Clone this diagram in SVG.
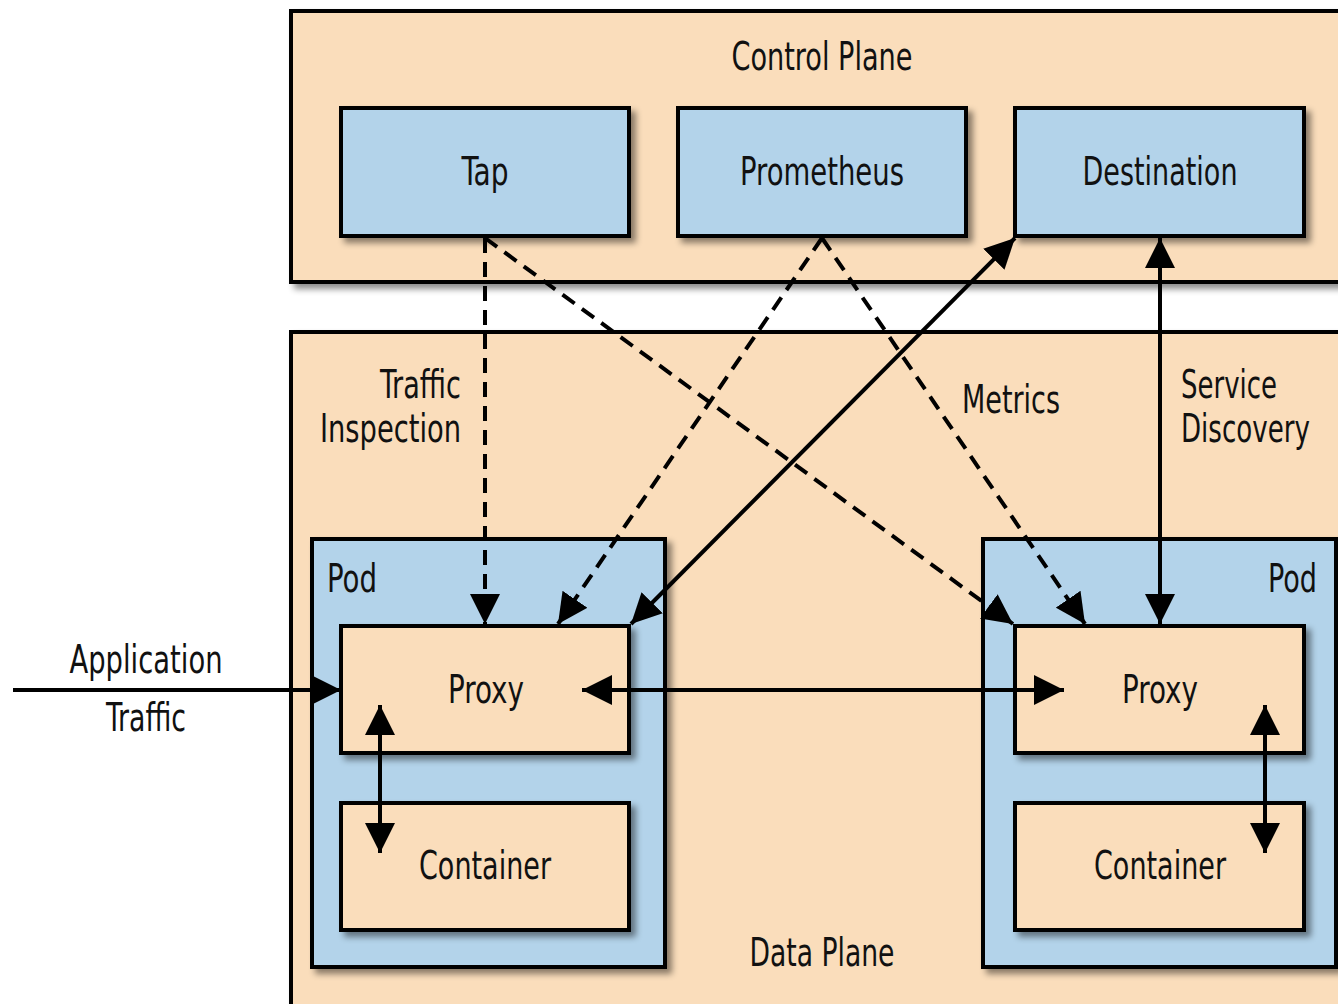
<svg xmlns="http://www.w3.org/2000/svg" width="1338" height="1004" viewBox="0 0 1338 1004">
<style>
.peach{fill:#FADDBB;stroke:#000;stroke-width:4}
.blue{fill:#B3D3EA;stroke:#000;stroke-width:4}
.t{font-family:"DejaVu Sans Condensed","Liberation Sans",sans-serif;font-size:39px;fill:#111}
.c{text-anchor:middle}
.e{text-anchor:end}
.ln{stroke:#000;stroke-width:4;fill:none}
.d{stroke-dasharray:15 9}
</style>
<defs>
<filter id="sh" x="-10%" y="-10%" width="130%" height="130%">
<feDropShadow dx="5" dy="5" stdDeviation="3" flood-color="#000" flood-opacity="0.45"/>
</filter>
<marker id="ah" viewBox="0 0 10 10" refX="10" refY="5" markerWidth="7.5" markerHeight="7.5" markerUnits="strokeWidth" orient="auto-start-reverse">
<path d="M0,0 L10,5 L0,10 Z" fill="#000"/>
</marker>
</defs>
<rect width="1338" height="1004" fill="#fff"/>
<g id="control-plane">
<rect class="peach" x="291" y="11" width="1060" height="271" filter="url(#sh)"/>
<text class="t c" x="822" y="70" textLength="181" lengthAdjust="spacingAndGlyphs">Control Plane</text>
</g>
<g id="data-plane">
<rect class="peach" x="291" y="332" width="1060" height="690" filter="url(#sh)"/>
<text class="t c" x="822" y="966" textLength="145" lengthAdjust="spacingAndGlyphs">Data Plane</text>
</g>
<g id="tap">
<rect class="blue" x="341" y="108" width="288" height="128" filter="url(#sh)"/>
<text class="t c" x="485" y="185" textLength="47" lengthAdjust="spacingAndGlyphs">Tap</text>
</g>
<g id="prometheus">
<rect class="blue" x="678" y="108" width="288" height="128" filter="url(#sh)"/>
<text class="t c" x="822" y="185" textLength="164" lengthAdjust="spacingAndGlyphs">Prometheus</text>
</g>
<g id="destination">
<rect class="blue" x="1015" y="108" width="289" height="128" filter="url(#sh)"/>
<text class="t c" x="1160" y="185" textLength="155" lengthAdjust="spacingAndGlyphs">Destination</text>
</g>
<g id="pod-left">
<rect class="blue" x="312" y="539" width="353" height="428" filter="url(#sh)"/>
<text class="t" x="327" y="592" textLength="50" lengthAdjust="spacingAndGlyphs">Pod</text>
</g>
<g id="pod-right">
<rect class="blue" x="983" y="539" width="353" height="428" filter="url(#sh)"/>
<text class="t e" x="1317" y="592" textLength="49" lengthAdjust="spacingAndGlyphs">Pod</text>
</g>
<g id="proxy-left">
<rect class="peach" x="341" y="626" width="288" height="127" filter="url(#sh)"/>
<text class="t c" x="486" y="703" textLength="76" lengthAdjust="spacingAndGlyphs">Proxy</text>
</g>
<g id="container-left">
<rect class="peach" x="341" y="803" width="288" height="127" filter="url(#sh)"/>
<text class="t c" x="485" y="879" textLength="132" lengthAdjust="spacingAndGlyphs">Container</text>
</g>
<g id="proxy-right">
<rect class="peach" x="1015" y="626" width="289" height="127" filter="url(#sh)"/>
<text class="t c" x="1160" y="703" textLength="76" lengthAdjust="spacingAndGlyphs">Proxy</text>
</g>
<g id="container-right">
<rect class="peach" x="1015" y="803" width="289" height="127" filter="url(#sh)"/>
<text class="t c" x="1160" y="879" textLength="132" lengthAdjust="spacingAndGlyphs">Container</text>
</g>
<g id="labels">
<text class="t e" x="461" y="398" textLength="81" lengthAdjust="spacingAndGlyphs">Traffic</text>
<text class="t e" x="461" y="442" textLength="141" lengthAdjust="spacingAndGlyphs">Inspection</text>
<text class="t" x="962" y="413" textLength="98" lengthAdjust="spacingAndGlyphs">Metrics</text>
<text class="t" x="1181" y="398" textLength="96" lengthAdjust="spacingAndGlyphs">Service</text>
<text class="t" x="1181" y="442" textLength="129" lengthAdjust="spacingAndGlyphs">Discovery</text>
<text class="t c" x="146" y="673" textLength="153" lengthAdjust="spacingAndGlyphs">Application</text>
<text class="t c" x="146" y="731" textLength="80" lengthAdjust="spacingAndGlyphs">Traffic</text>
</g>
<g id="connectors">
<line class="ln d" x1="485" y1="238" x2="485" y2="624" marker-end="url(#ah)"/>
<line class="ln d" x1="485" y1="238" x2="1013" y2="624" marker-end="url(#ah)"/>
<line class="ln d" x1="822" y1="238" x2="558" y2="624" marker-end="url(#ah)"/>
<line class="ln d" x1="822" y1="238" x2="1085" y2="624" marker-end="url(#ah)"/>
<line class="ln" x1="631" y1="624" x2="1015" y2="238" marker-start="url(#ah)" marker-end="url(#ah)"/>
<line class="ln" x1="1160" y1="238" x2="1160" y2="624" marker-start="url(#ah)" marker-end="url(#ah)"/>
<line class="ln" x1="13" y1="690" x2="341" y2="690" marker-end="url(#ah)"/>
<line class="ln" x1="582" y1="690" x2="1064" y2="690" marker-start="url(#ah)" marker-end="url(#ah)"/>
<line class="ln" x1="380" y1="705" x2="380" y2="853" marker-start="url(#ah)" marker-end="url(#ah)"/>
<line class="ln" x1="1265" y1="705" x2="1265" y2="853" marker-start="url(#ah)" marker-end="url(#ah)"/>
</g>
</svg>
